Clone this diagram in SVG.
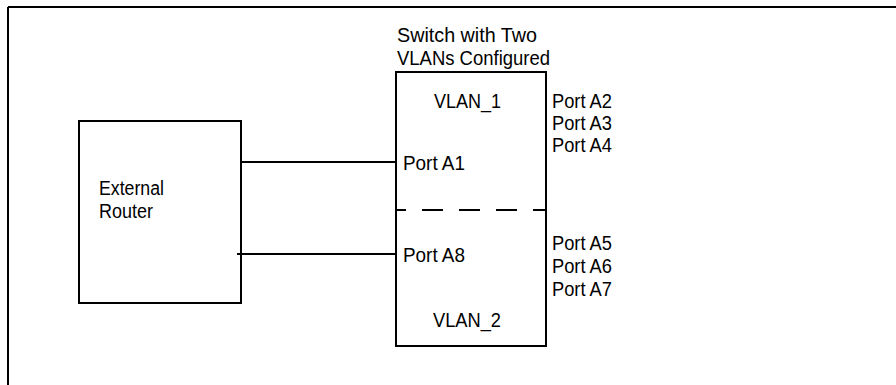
<svg xmlns="http://www.w3.org/2000/svg" width="896" height="385" viewBox="0 0 896 385">
<style>
.box{fill:#fff;stroke:#000;stroke-width:2}
.ln{stroke:#000;stroke-width:2;fill:none}
.t{font-family:"Liberation Sans",Arial,sans-serif;font-size:20px;fill:#000}
</style>
<rect width="896" height="385" fill="#fff"/>
<g id="frame">
<path class="ln" d="M8,7 H896 M8,7 V385" stroke-width="2.5"/>
</g>
<g id="router">
<rect class="box" x="79" y="121" width="162" height="182"/>
<text class="t" x="99" y="195" textLength="65" lengthAdjust="spacingAndGlyphs">External</text>
<text class="t" x="99" y="218" textLength="54" lengthAdjust="spacingAndGlyphs">Router</text>
</g>
<g id="switch">
<text class="t" x="397" y="42" textLength="140" lengthAdjust="spacingAndGlyphs">Switch with Two</text>
<text class="t" x="397" y="65" textLength="153" lengthAdjust="spacingAndGlyphs">VLANs Configured</text>
<rect class="box" x="396" y="72" width="150" height="274"/>
<line class="ln" x1="397" y1="210" x2="545" y2="210" stroke-dasharray="21 16" stroke-dashoffset="12" stroke-width="1.5"/>
<text class="t" x="434" y="108" textLength="67" lengthAdjust="spacingAndGlyphs">VLAN_1</text>
<text class="t" x="433" y="327" textLength="68" lengthAdjust="spacingAndGlyphs">VLAN_2</text>
<text class="t" x="403" y="170" textLength="62" lengthAdjust="spacingAndGlyphs">Port A1</text>
<text class="t" x="403" y="262" textLength="62" lengthAdjust="spacingAndGlyphs">Port A8</text>
<text class="t" x="552" y="108" textLength="60" lengthAdjust="spacingAndGlyphs">Port A2</text>
<text class="t" x="552" y="130" textLength="60" lengthAdjust="spacingAndGlyphs">Port A3</text>
<text class="t" x="552" y="152" textLength="60" lengthAdjust="spacingAndGlyphs">Port A4</text>
<text class="t" x="552" y="250" textLength="60" lengthAdjust="spacingAndGlyphs">Port A5</text>
<text class="t" x="552" y="273" textLength="60" lengthAdjust="spacingAndGlyphs">Port A6</text>
<text class="t" x="552" y="296" textLength="60" lengthAdjust="spacingAndGlyphs">Port A7</text>
</g>
<g id="connectors">
<line class="ln" x1="241" y1="162" x2="396" y2="162"/>
<line class="ln" x1="237" y1="254" x2="396" y2="254"/>
</g>
</svg>
